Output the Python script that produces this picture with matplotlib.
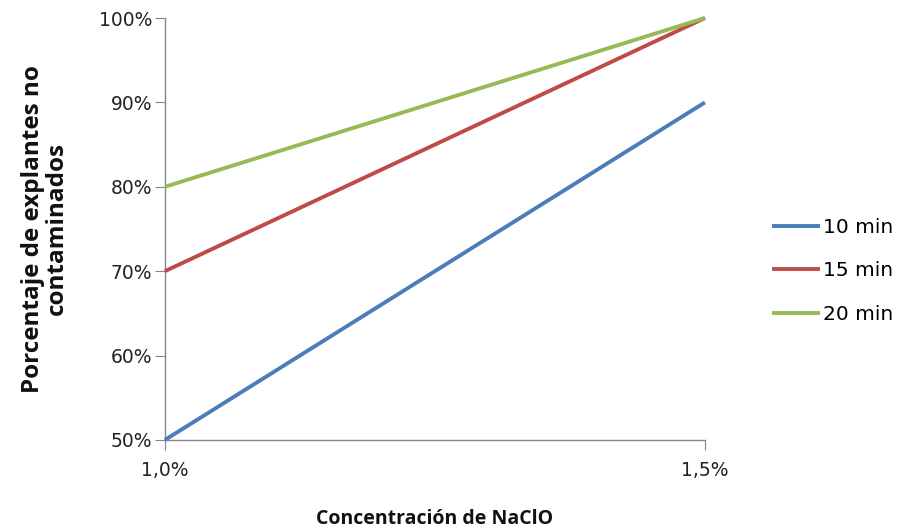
import matplotlib.pyplot as plt
from matplotlib.ticker import PercentFormatter

# Concentraciones de NaClO y porcentaje de explantes no contaminados
concentraciones = ["1,0%", "1,5%"]
series = ["10 min", "15 min", "20 min"]
min10 = [50, 90]
min15 = [70, 100]
min20 = [80, 100]
colores = ["#4A7EBB", "#BE4B48", "#98B954"]

plt.rcParams['font.family'] = ['DejaVu Sans']

fig = plt.figure(figsize=(9.09, 5.30), dpi=100, facecolor='white')
ax = fig.add_axes([0.1815, 0.170, 0.594, 0.796])

x = range(len(concentraciones))
for datos, nombre, color in zip([min10, min15, min20], series, colores):
    ax.plot(x, datos, color=color, linewidth=2.8, label=nombre,
            solid_capstyle='butt', clip_on=False, zorder=3)

ax.set_xlim(0, 1)
ax.set_ylim(50, 100)
ax.set_yticks(range(50, 101, 10))
ax.yaxis.set_major_formatter(PercentFormatter(decimals=0))
ax.set_xticks(list(x))
ax.set_xticklabels(concentraciones)

for lado in ['top', 'right']:
    ax.spines[lado].set_visible(False)
for lado in ['left', 'bottom']:
    ax.spines[lado].set_color('#868686')
    ax.spines[lado].set_linewidth(1.0)

ax.tick_params(axis='y', length=7, color='#868686', labelsize=13.5, pad=2,
               labelcolor='#222222')
ax.tick_params(axis='x', length=7, color='#868686', labelsize=13.5, pad=8,
               labelcolor='#222222')

ax.set_xlabel("Concentración de NaClO", fontsize=14, fontweight='bold',
              family='Open Sans', labelpad=21, color='#111111')
ax.set_ylabel("Porcentaje de explantes no\ncontaminados", fontsize=17.5,
              fontweight='bold', family='Open Sans', labelpad=22,
              linespacing=1.0, color='#111111')

ax.legend(loc='center left', frameon=False,
          fontsize=14.5, handlelength=2.4, handletextpad=0.15,
          labelspacing=1.2, borderaxespad=0, borderpad=0,
          bbox_to_anchor=(772 / 909, (530 - 271) / 530),
          bbox_transform=fig.transFigure)

fig.savefig("out.png", dpi=100, facecolor='white')
